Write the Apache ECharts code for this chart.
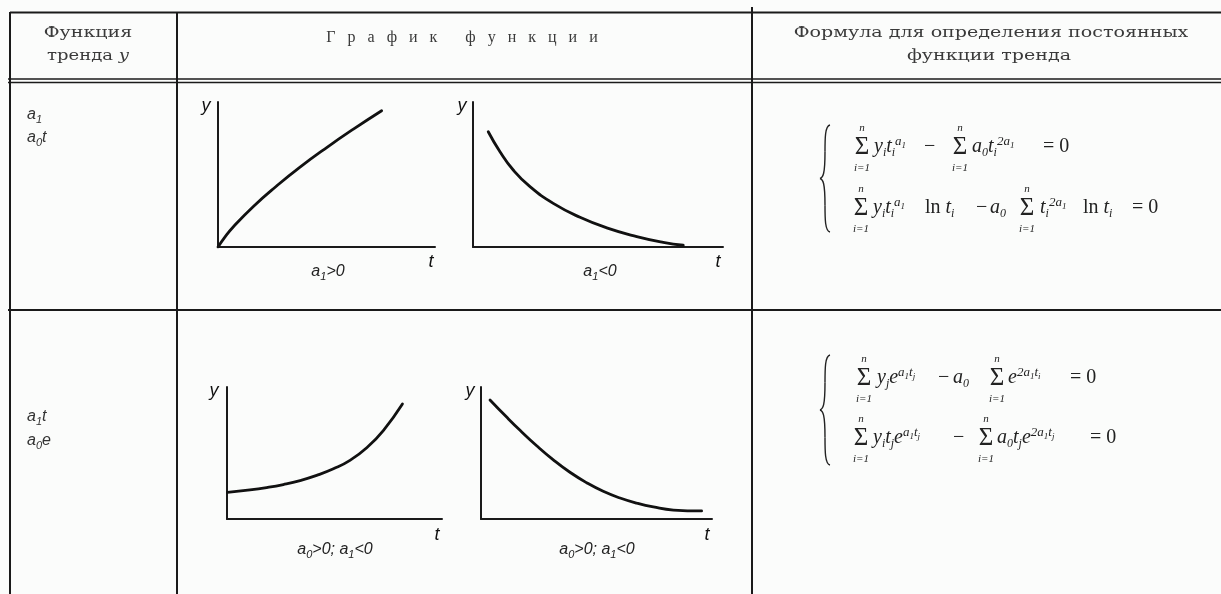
<!DOCTYPE html>
<html><head><meta charset="utf-8">
<script src="https://cdn.jsdelivr.net/npm/echarts@6/dist/echarts.min.js"></script>
<style>html,body{margin:0;padding:0;background:#fbfcfb}#c{width:1221px;height:594px}</style>
</head><body><div id="c"></div>
<script>
// Curve data (t, y), in arbitrary units 0..10
const c1T = [0, 0.30, 0.71, 1.63, 2.70, 3.78, 5.01, 6.24, 7.54];
const c1Y = [0, 0.65, 1.40, 2.80, 4.21, 5.51, 6.86, 8.13, 9.40];
const c2T = [0.61, 1.08, 1.61, 2.28, 3.21, 4.28, 5.35, 6.55, 7.61, 8.41];
const c2Y = [7.95, 6.57, 5.31, 4.16, 3.01, 2.05, 1.32, 0.72, 0.32, 0.12];
const c3T = [0.02, 1.07, 1.85, 2.62, 3.40, 4.17, 4.95, 5.72, 6.50, 7.27, 8.16];
const c3Y = [2.02, 2.20, 2.38, 2.61, 2.91, 3.30, 3.80, 4.44, 5.40, 6.70, 8.71];
const c4T = [0.39, 1.11, 1.69, 2.41, 3.13, 3.85, 4.57, 5.29, 6.02, 6.74, 7.46, 8.33, 9.55];
const c4Y = [9.02, 7.72, 6.72, 5.55, 4.48, 3.54, 2.75, 2.10, 1.59, 1.20, 0.91, 0.68, 0.61];
const curveTs = [c1T, c2T, c3T, c4T];
const curveYs = [c1Y, c2Y, c3Y, c4Y];
const condLabels = ['{v|a}{b|1}{v|>0}', '{v|a}{b|1}{v|<0}', '{v|a}{b|0}{v|>0; a}{b|1}{v|<0}', '{v|a}{b|0}{v|>0; a}{b|1}{v|<0}'];
const headFunc = ['Функция', 'тренда {i|y}'];
const headGraph = 'Г   р   а   ф   и   к       ф   у   н   к   ц   и   и';
const headFormula = ['Формула для определения постоянных', 'функции тренда'];

const chart = echarts.init(document.getElementById('c'), null, {renderer: 'canvas'});
const grids = [
  {left: 218, top: 102, width: 217, height: 145},
  {left: 473, top: 102, width: 250, height: 145},
  {left: 227, top: 387, width: 215, height: 132},
  {left: 481, top: 387, width: 231, height: 132}
];
const axCommon = {min: 0, max: 10, axisTick: {show: false}, axisLabel: {show: false}, splitLine: {show: false},
  axisLine: {show: true, onZero: false, lineStyle: {color: '#1a1a1a', width: 2}}};
const xAxes = grids.map((g, i) => Object.assign({type: 'value', gridIndex: i}, axCommon));
const yAxes = grids.map((g, i) => Object.assign({type: 'value', gridIndex: i}, axCommon));
const series = curveTs.map((ts, i) => ({
  type: 'line', xAxisIndex: i, yAxisIndex: i, smooth: 0.5, showSymbol: false, silent: true,
  data: ts.map((t, k) => [t, curveYs[i][k]]),
  lineStyle: {color: '#111', width: 2.8, cap: 'round'}
}));

const G = [];
function line(x1, y1, x2, y2, w, col) {
  G.push({type: 'line', shape: {x1, y1, x2, y2}, style: {stroke: col || '#1a1a1a', lineWidth: w || 2}, silent: true});
}
function text(x, y, t, st, extra) {
  G.push(Object.assign({type: 'text', x, y, silent: true, style: Object.assign({text: t, fill: '#222', align: 'left', verticalAlign: 'middle'}, st)}, extra || {}));
}
// table lines
line(10, 12.5, 1221, 12.5, 2);
line(752, 7, 752, 594, 2);
line(10, 12, 10, 594, 2);
line(177, 12, 177, 594, 2);
line(8, 79, 1221, 79, 1.6);
line(8, 82.5, 1221, 82.5, 1.6);
line(8, 310, 1221, 310, 2.2);

// header
const headSt = {fontFamily: 'DejaVu Serif', fontSize: 15, fill: '#3a3a3a', align: 'center'};
const sx = {scaleX: 1.27};
text(88, 33, headFunc[0], headSt, sx);
text(88, 56, headFunc[1], Object.assign({}, headSt, {rich: {i: {fontFamily: 'DejaVu Serif', fontStyle: 'italic', fontSize: 15, fill: '#3a3a3a'}}}), {scaleX: 1.2});
text(462, 38, headGraph, Object.assign({}, headSt, {fontFamily: 'Liberation Serif', fontSize: 16}));
text(991, 33, headFormula[0], headSt, sx);
text(989, 56, headFormula[1], headSt, sx);

// left column
const sansRich = {
  v: {fontFamily: 'Liberation Sans', fontStyle: 'italic', fontSize: 16, fill: '#333', lineHeight: 20},
  b: {fontFamily: 'Liberation Sans', fontStyle: 'italic', fontSize: 11, fill: '#333', lineHeight: 12, verticalAlign: 'bottom'}
};
text(27, 115, '{v|a}{b|1}', {rich: sansRich});
text(27, 138, '{v|a}{b|0}{v|t}', {rich: sansRich});
text(27, 417, '{v|a}{b|1}{v|t}', {rich: sansRich});
text(27, 441, '{v|a}{b|0}{v|e}', {rich: sansRich});

// mini chart labels
const lblRich = {
  v: {fontFamily: 'Liberation Sans', fontStyle: 'italic', fontSize: 16, fill: '#222', lineHeight: 20},
  b: {fontFamily: 'Liberation Sans', fontStyle: 'italic', fontSize: 11, fill: '#222', lineHeight: 12, verticalAlign: 'bottom'}
};
const lblPos = [[328, 272], [600, 272], [335, 550], [597, 550]];
lblPos.forEach((p, i) => text(p[0], p[1], condLabels[i], {align: 'center', rich: lblRich}));
const yPos = [[206, 106], [462, 106], [214, 391], [470, 391]];
const tPos = [[431, 262], [718, 262], [437, 535], [707, 535]];
const axSt = {fontFamily: 'Liberation Sans', fontStyle: 'italic', fontSize: 18, fill: '#111', align: 'center'};
yPos.forEach(p => text(p[0], p[1], 'y', axSt));
tPos.forEach(p => text(p[0], p[1], 't', axSt));

// formulas
const SER = 'Liberation Serif';
const fRich = {
  v: {fontFamily: SER, fontStyle: 'italic', fontSize: 20, fill: '#222', lineHeight: 23},
  r: {fontFamily: SER, fontSize: 20, fill: '#222', lineHeight: 23},
  b: {fontFamily: SER, fontStyle: 'italic', fontSize: 12, fill: '#222', lineHeight: 12, verticalAlign: 'bottom'},
  p: {fontFamily: SER, fontStyle: 'italic', fontSize: 13, fill: '#222', lineHeight: 13, verticalAlign: 'top'},
  q: {fontFamily: SER, fontStyle: 'italic', fontSize: 9, fill: '#222', lineHeight: 9, verticalAlign: 'top', padding: [6, 0, 0, 0]}
};
function sigma(x, y) {
  text(x, y, '\u03A3', {fontFamily: SER, fontSize: 25, align: 'center'});
  text(x, y - 19, 'n', {fontFamily: SER, fontStyle: 'italic', fontSize: 11, align: 'center'});
  text(x, y + 21, 'i=1', {fontFamily: SER, fontStyle: 'italic', fontSize: 11, align: 'center'});
}
function ftext(x, y, t) { text(x, y, t, {rich: fRich}); }
function brace(x, top, bot) {
  const m = (top + bot) / 2, h = (bot - top) / 2;
  const s = {stroke: '#222', lineWidth: 1.4, fill: null};
  G.push({type: 'bezierCurve', silent: true, style: s, shape: {x1: x + 8, y1: top, cpx1: x + 3, cpy1: top + 1, cpx2: x + 3, cpy2: top + h * 0.25, x2: x + 3, y2: top + h * 0.5}});
  G.push({type: 'bezierCurve', silent: true, style: s, shape: {x1: x + 3, y1: top + h * 0.5, cpx1: x + 3, cpy1: m - 4, cpx2: x + 1, cpy2: m - 1, x2: x - 2, y2: m}});
  G.push({type: 'bezierCurve', silent: true, style: s, shape: {x1: x - 2, y1: m, cpx1: x + 1, cpy1: m + 1, cpx2: x + 3, cpy2: m + 4, x2: x + 3, y2: bot - h * 0.5}});
  G.push({type: 'bezierCurve', silent: true, style: s, shape: {x1: x + 3, y1: bot - h * 0.5, cpx1: x + 3, cpy1: bot - h * 0.25, cpx2: x + 3, cpy2: bot - 1, x2: x + 8, y2: bot}});
}
// formula 1
brace(822, 125, 232);
sigma(862, 147);
ftext(874, 147, '{v|y}{b|i}{v|t}{b|i}{p|a}{q|1}');
ftext(924, 147, '{r|\u2212}');
sigma(960, 147);
ftext(972, 147, '{v|a}{b|0}{v|t}{b|i}{p|2a}{q|1}');
ftext(1043, 147, '{r|= 0}');
sigma(861, 208);
ftext(873, 208, '{v|y}{b|i}{v|t}{b|i}{p|a}{q|1}');
ftext(925, 208, '{r|ln }{v|t}{b|i}');
ftext(976, 208, '{r|\u2212}');
ftext(990, 208, '{v|a}{b|0}');
sigma(1027, 208);
ftext(1040, 208, '{v|t}{b|i}{p|2a}{q|1}');
ftext(1083, 208, '{r|ln }{v|t}{b|i}');
ftext(1132, 208, '{r|= 0}');
// formula 2
brace(822, 355, 465);
sigma(864, 378);
ftext(877, 378, '{v|y}{b|j}{v|e}{p|a}{q|1}{p|t}{q|j}');
ftext(938, 378, '{r|\u2212}');
ftext(953, 378, '{v|a}{b|0}');
sigma(997, 378);
ftext(1008, 378, '{v|e}{p|2a}{q|1}{p|t}{q|i}');
ftext(1070, 378, '{r|= 0}');
sigma(861, 438);
ftext(873, 438, '{v|y}{b|i}{v|t}{b|j}{v|e}{p|a}{q|1}{p|t}{q|j}');
ftext(953, 438, '{r|\u2212}');
sigma(986, 438);
ftext(997, 438, '{v|a}{b|0}{v|t}{b|j}{v|e}{p|2a}{q|1}{p|t}{q|j}');
ftext(1090, 438, '{r|= 0}');

chart.setOption({
  backgroundColor: '#fbfcfb',
  animation: false,
  grid: grids.map(g => Object.assign({containLabel: false}, g)),
  xAxis: xAxes,
  yAxis: yAxes,
  series: series,
  graphic: {elements: G}
});
</script></body></html>
